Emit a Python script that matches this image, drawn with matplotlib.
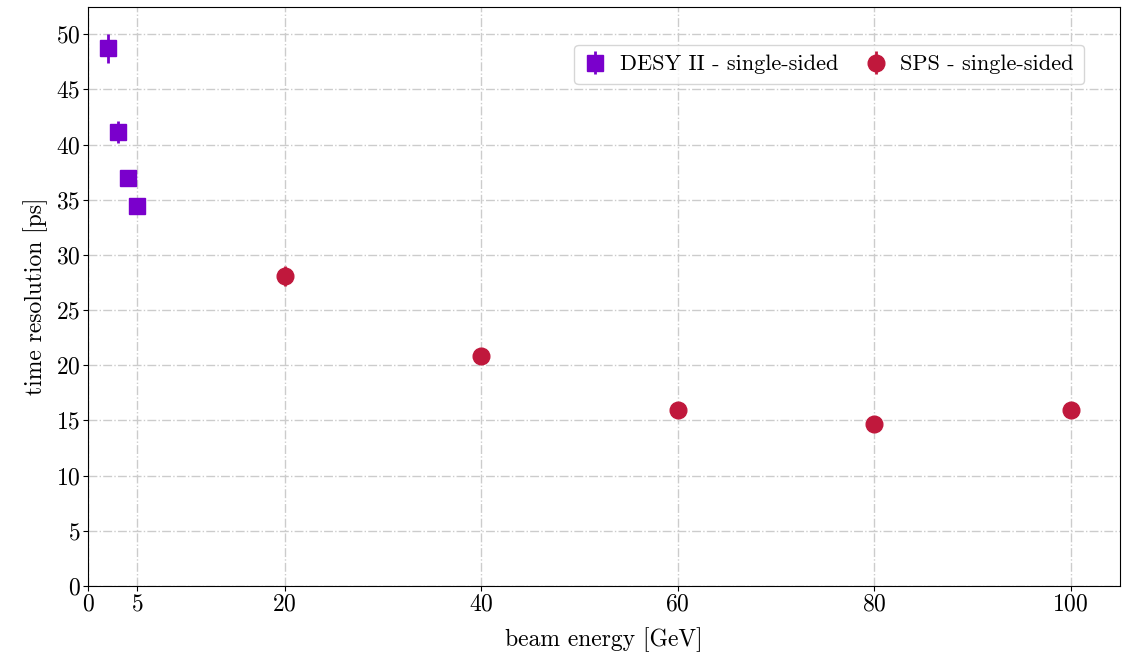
import matplotlib
matplotlib.use("Agg")
import matplotlib.pyplot as plt

desy_energy = [2, 3, 4, 5]
desy_res = [48.7, 41.1, 36.95, 34.4]
desy_err = [1.3, 1.0, 0.5, 0.5]

sps_energy = [20, 40, 60, 80, 100]
sps_res = [28.05, 20.85, 15.9, 14.7, 15.95]
sps_err = [0.9, 0.4, 0.4, 0.4, 0.4]

xticks = [0, 5, 20, 40, 60, 80, 100]
yticks = list(range(0, 55, 5))

plt.rcParams['font.family'] = 'serif'
plt.rcParams['font.serif'] = ['cmr10']
plt.rcParams['mathtext.fontset'] = 'cm'
plt.rcParams['axes.formatter.use_mathtext'] = True

fig, ax = plt.subplots(figsize=(11.31, 6.54), dpi=100)
fig.subplots_adjust(left=0.078, right=0.99, bottom=0.104, top=0.99)

ax.errorbar(desy_energy, desy_res, yerr=desy_err, fmt='s', color='#7a00cc',
            markersize=12, elinewidth=2, capsize=0, label='DESY II - single-sided', zorder=3)
ax.errorbar(sps_energy, sps_res, yerr=sps_err, fmt='o', color='#c0183c',
            markersize=12, elinewidth=2, capsize=0, label='SPS - single-sided', zorder=3)

ax.set_xlim(0, 105)
ax.set_ylim(0, 52.5)
ax.set_xticks(xticks)
ax.set_yticks(yticks)
ax.tick_params(labelsize=17, pad=2)
ax.grid(True, linestyle='-.', color='#cccccc', linewidth=1)
ax.set_axisbelow(True)
ax.set_xlabel('beam energy [GeV]', fontsize=17, labelpad=8)
ax.set_ylabel('time resolution [ps]', fontsize=17, labelpad=6)
ax.legend(loc='upper right', ncol=2, fontsize=16, bbox_to_anchor=(0.9655, 0.934),
          borderaxespad=0, handlelength=1.0, handletextpad=0.6,
          columnspacing=1.2, borderpad=0.45)

fig.savefig('out.png', dpi=100)
